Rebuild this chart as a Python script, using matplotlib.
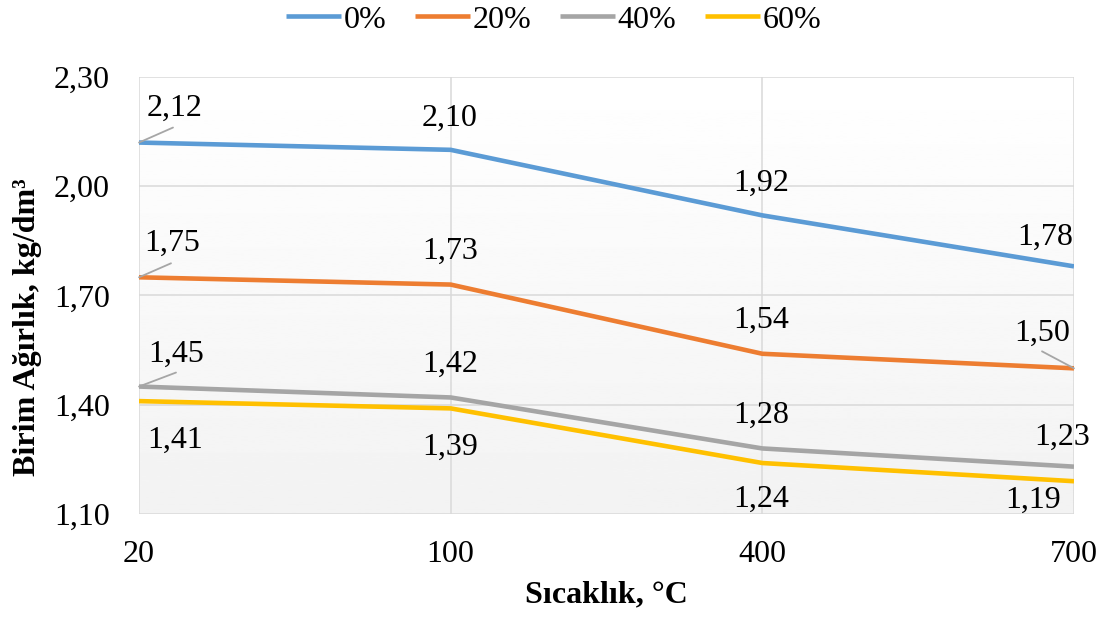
import matplotlib
matplotlib.use("Agg")
import matplotlib.pyplot as plt
import numpy as np

plt.rcParams["font.family"] = ["Liberation Serif", "DejaVu Serif"]

# data
temps = ["20", "100", "400", "700"]
series_names = ["0%", "20%", "40%", "60%"]
w0 = [2.12, 2.10, 1.92, 1.78]
w20 = [1.75, 1.73, 1.54, 1.50]
w40 = [1.45, 1.42, 1.28, 1.23]
w60 = [1.41, 1.39, 1.24, 1.19]

colors = ["#5B9BD5", "#ED7D31", "#A5A5A5", "#FFC000"]

# label offsets in pixels (dx, dy to baseline), and leader line ends (or None)
label_pos = [
    [(36, 27), (-1, 24), (-1, 25), (-29, 22)],
    [(33, 26), (0, 26), (-1, 26), (-32, 28)],
    [(37, 25), (0, 26), (-1, 26), (-12, 22)],
    [(36, -47), (0, -46), (-1, -44), (-41, -27)],
]
leaders = [
    [(34, 15), None, None, None],
    [(32, 14), None, None, (-32, 17)],
    [(37, 14), None, None, None],
    [None, None, None, None],
]

FS = 23

fig = plt.figure(figsize=(11.03, 6.19), dpi=100)
ax = fig.add_axes([139 / 1103, 1 - 514 / 619, (1074 - 139) / 1103, (514 - 77) / 619])

x = np.arange(len(temps))

# gradient background of the plot area (white at top, light grey at bottom)
grad = np.linspace(0.95, 1.0, 256).reshape(-1, 1)
ax.imshow(grad, cmap="gray", vmin=0, vmax=1, aspect="auto", origin="lower",
          extent=[0, len(temps) - 1, 1.10, 2.30], zorder=0)
ax.set_xlim(0, len(temps) - 1)
ax.set_ylim(1.10, 2.30)

yticks = [1.10, 1.40, 1.70, 2.00, 2.30]
ax.set_yticks(yticks)
ax.set_yticklabels([f"{v:.2f}".replace(".", ",") for v in yticks])
ax.set_xticks(x)
ax.set_xticklabels(temps)
ax.grid(True, color="#d9d9d9", linewidth=1.1, zorder=1)
for s in ax.spines.values():
    s.set_visible(False)
ax.tick_params(length=0, labelsize=FS, colors="black")
ax.tick_params(axis="y", pad=21)
ax.tick_params(axis="x", pad=19)

all_series = [w0, w20, w40, w60]
for vals, name, c, lp, ld in zip(all_series, series_names, colors, label_pos, leaders):
    ax.plot(x, vals, color=c, linewidth=3.3, label=name, zorder=3, solid_capstyle="butt")
    for xi, v, (dx, dy), lead in zip(x, vals, lp, ld):
        ax.annotate(f"{v:.2f}".replace(".", ","), (xi, v), xytext=(dx, dy),
                    textcoords="offset pixels", ha="center", va="baseline",
                    fontsize=FS, zorder=4, annotation_clip=False)
        if lead is not None:
            ax.annotate("", (xi, v), xytext=lead, textcoords="offset pixels",
                        arrowprops=dict(arrowstyle="-", color="#a6a6a6", lw=1.3,
                                        shrinkA=0, shrinkB=0),
                        zorder=4, annotation_clip=False)

ax.set_xlabel("Sıcaklık, °C", fontsize=FS, fontweight="bold", labelpad=8)
ax.set_ylabel("Birim Ağırlık, kg/dm³", fontsize=FS, fontweight="bold")
ax.yaxis.set_label_coords(-0.104, 0.428)

fig.legend(loc="center", bbox_to_anchor=(554 / 1103, 1 - 20 / 619), ncol=4,
           frameon=False, fontsize=FS, handlelength=1.7, handletextpad=0.1,
           columnspacing=0.9, borderpad=0)

fig.savefig("out.png", dpi=100)
